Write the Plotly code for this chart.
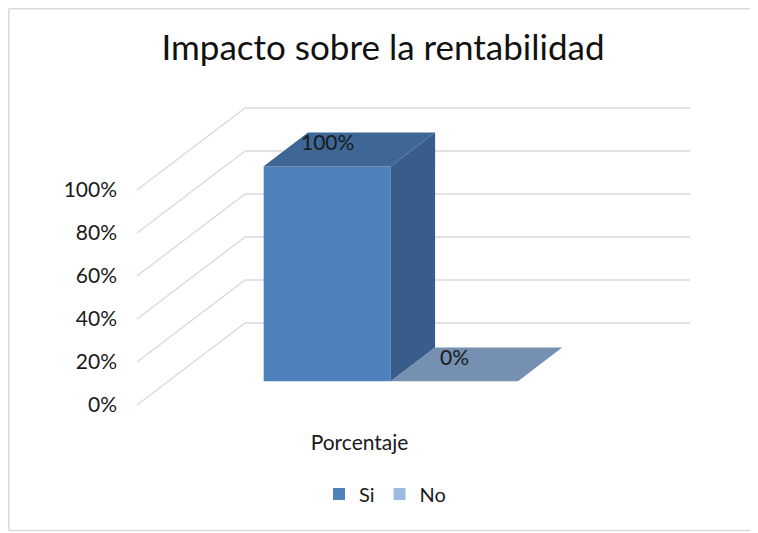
import plotly.graph_objects as go

# ---- data ----
categories = ["Porcentaje"]
series = ["Si", "No"]
values = [100, 0]                      # percent
tick_values = [0, 20, 40, 60, 80, 100]
tick_labels = ["0%", "20%", "40%", "60%", "80%", "100%"]
title_text = "Impacto sobre la rentabilidad"

# ---- styles / geometry (oblique 3D projection) ----
front_colors = ["#4f81bd", "#9bbbe0"]
side_colors = ["#385d8a", "#6f8cb0"]
top_colors = ["#3e6795", "#7590b0"]
grid_color = "#d9d9d9"
FONT = "Lato"

OFF = 8             # page body margin of the viewer
K = 2.15            # pixels per percent unit
DX = 108.0          # horizontal depth offset (px) of the whole floor
DY = 82.0 / K       # vertical depth offset (percent units)
FLOOR_X0 = 137.0    # front-left floor x (px units on x axis, page coords)
FLOOR_W = 445.0     # floor width
GAP = 1.5           # gap width ratio
D0, D1 = 0.29, 0.70  # bar depth extent (fraction of floor depth)
BACK_X1 = FLOOR_X0 + DX + FLOOR_W

W, H = 758 - OFF, 533 - OFF
L, R, T, B = 118 - OFF, 12, 100 - OFF, 113 - OFF
plot_h = H - T - B
plot_w = W - L - R
y_front0_px = 405 - OFF
yr = [-(H - B - y_front0_px) / K, (y_front0_px - T) / K]
xr = [L + OFF, L + OFF + plot_w]   # x units = page pixels


def px_to_paper_x(px):
    return (px - OFF - L) / plot_w


def px_to_paper_y(py):
    return (H - B - (py - OFF)) / plot_h


fig = go.Figure()

# walls: gridlines as shapes below the traces
shapes = []
for v in tick_values:
    shapes.append(dict(type="line", xref="x", yref="y", layer="below",
                       x0=FLOOR_X0, y0=v, x1=FLOOR_X0 + DX, y1=v + DY,
                       line=dict(color=grid_color, width=1.3)))
    shapes.append(dict(type="line", xref="x", yref="y", layer="below",
                       x0=FLOOR_X0 + DX, y0=v + DY, x1=BACK_X1, y1=v + DY,
                       line=dict(color=grid_color, width=1.3)))

# chart border (top, left, bottom)
border = dict(color=grid_color, width=1.5)
shapes.append(dict(type="line", xref="paper", yref="paper", layer="below",
                   x0=px_to_paper_x(8.8), x1=px_to_paper_x(770),
                   y0=px_to_paper_y(8.8), y1=px_to_paper_y(8.8), line=border))
shapes.append(dict(type="line", xref="paper", yref="paper", layer="below",
                   x0=px_to_paper_x(8.8), x1=px_to_paper_x(8.8),
                   y0=px_to_paper_y(8.8), y1=px_to_paper_y(530.5), line=border))
shapes.append(dict(type="line", xref="paper", yref="paper", layer="below",
                   x0=px_to_paper_x(8.8), x1=px_to_paper_x(770),
                   y0=px_to_paper_y(530.5), y1=px_to_paper_y(530.5), line=border))

ncat = len(categories)
nser = len(series)
cat_w = FLOOR_W / ncat
bar_w = cat_w / (nser + GAP)
bdx = (D1 - D0) * DX
bdy = (D1 - D0) * DY
base = D0 * DY
annotations = []

for ci, cat in enumerate(categories):
    cat_left = FLOOR_X0 + D0 * DX + ci * cat_w + bar_w * GAP / 2
    for si, name in enumerate(series):
        v = values[si]
        xl = cat_left + si * bar_w
        xrr = xl + bar_w
        xc = (xl + xrr) / 2
        # front face
        fig.add_trace(go.Bar(x=[xc], y=[v], base=[base], width=[bar_w],
                             name=name, marker=dict(color=front_colors[si], line=dict(width=0)),
                             showlegend=True, hoverinfo="skip"))
        # side face
        fig.add_trace(go.Scatter(
            x=[xrr, xrr, xrr + bdx, xrr + bdx, xrr],
            y=[base, base + v, base + v + bdy, base + bdy, base],
            fill="toself", fillcolor=side_colors[si], mode="lines",
            line=dict(width=0, color=side_colors[si]), showlegend=False, hoverinfo="skip"))
        # top face
        fig.add_trace(go.Scatter(
            x=[xl, xrr, xrr + bdx, xl + bdx, xl],
            y=[base + v, base + v, base + v + bdy, base + v + bdy, base + v],
            fill="toself", fillcolor=top_colors[si], mode="lines",
            line=dict(width=0, color=top_colors[si]), showlegend=False, hoverinfo="skip"))
        annotations.append(dict(x=xc, y=base + v + bdy / 2, xref="x", yref="y",
                                text=f"{v}%", showarrow=False, yshift=8,
                                font=dict(family=FONT, size=21, color="#1a1a1a")))

cat_centers = [FLOOR_X0 + ci * cat_w + cat_w / 2 for ci in range(ncat)]

fig.update_layout(
    width=W, height=H,
    margin=dict(l=L, r=R, t=T, b=B),
    paper_bgcolor="white", plot_bgcolor="white",
    barmode="overlay",
    shapes=shapes,
    annotations=annotations,
    title=dict(text=title_text, x=(383 - OFF) / W, xanchor="center",
               y=1 - (48 - OFF) / H, yanchor="middle",
               font=dict(family=FONT, size=35, color="#111111")),
    xaxis=dict(range=xr, showgrid=False, zeroline=False, showline=False,
               tickvals=cat_centers, ticktext=categories, ticks="",
               tickfont=dict(family=FONT, size=21, color="#1a1a1a"), fixedrange=True),
    yaxis=dict(range=yr, showgrid=False, zeroline=False, showline=False,
               tickvals=tick_values, ticktext=tick_labels, ticks="",
               tickfont=dict(family=FONT, size=21, color="#1a1a1a"), fixedrange=True),
    legend=dict(orientation="h", x=px_to_paper_x(385), xanchor="center",
                y=px_to_paper_y(494), yanchor="middle",
                font=dict(family=FONT, size=20, color="#1a1a1a"),
                itemwidth=30, bgcolor="rgba(0,0,0,0)"),
    showlegend=True,
)

fig.write_html("out.html")
